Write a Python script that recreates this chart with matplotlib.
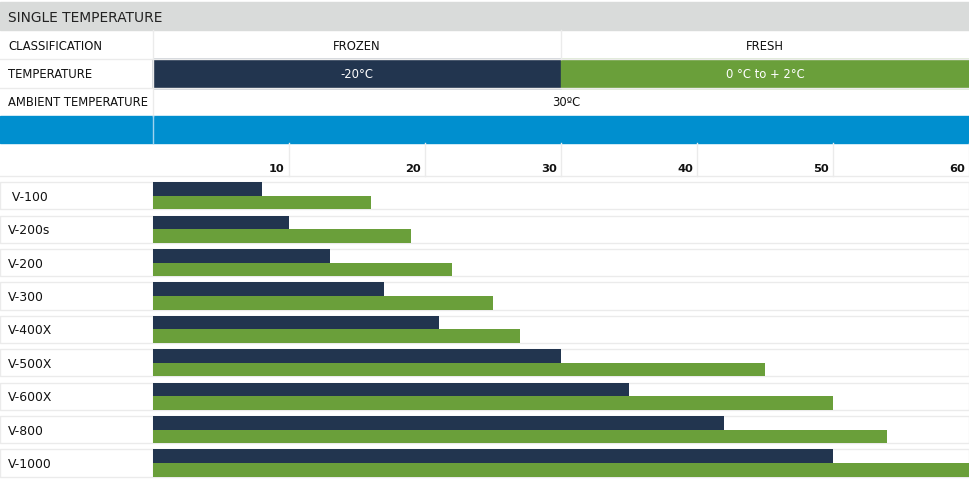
import matplotlib
matplotlib.use("Agg")
import matplotlib.pyplot as plt
from matplotlib.patches import Rectangle
from matplotlib.transforms import blended_transform_factory

# data
models = [" V-100", "V-200s", "V-200", "V-300", "V-400X", "V-500X", "V-600X", "V-800", "V-1000"]
frozen = [8, 10, 13, 17, 21, 30, 35, 42, 50]
fresh = [16, 19, 22, 25, 27, 45, 50, 54, 60]
ticks = [10, 20, 30, 40, 50, 60]

title = "SINGLE TEMPERATURE"
row_labels = ["CLASSIFICATION", "TEMPERATURE", "AMBIENT TEMPERATURE"]
classes = ["FROZEN", "FRESH"]
temps = ["-20°C", "0 °C to + 2°C"]
ambient = "30ºC"

navy = "#22354f"
green = "#6a9f3a"
blue = "#008fcf"
grey = "#d9dbda"
line = "#ebebeb"
narrow = dict(family="DejaVu Sans", fontstretch="condensed", fontsize=9.3)

W, H = 970, 482
fig = plt.figure(figsize=(W / 100, H / 100), dpi=100)

# header table, drawn in pixel coords
bg = fig.add_axes([0, 0, 1, 1])
bg.set_xlim(0, W)
bg.set_ylim(H, 0)
bg.axis("off")

x0, xm, x1 = 153, 561, 969
bg.add_patch(Rectangle((0, 2), W, 27.5, color=grey))
bg.text(8, 21.7, title, fontsize=9.9, color="#222222", family="DejaVu Sans")

for y in [58.5, 87.5]:
    bg.plot([0, W], [y, y], color=line, lw=1)
bg.plot([x0, x0], [29.5, 115.5], color=line, lw=1)
bg.plot([xm, xm], [29.5, 58.5], color=line, lw=1)
bg.add_patch(Rectangle((x0, 58.5), xm - x0, 29, color=navy))
bg.add_patch(Rectangle((xm, 58.5), x1 - xm, 29, color=green))
bg.add_patch(Rectangle((0, 115.5), W, 27, color=blue))
bg.plot([x0, x0], [115.5, 142.5], color="#9fd3ee", lw=1)

base = [50, 77.7, 106]
for lab, yb in zip(row_labels, base):
    bg.text(8, yb, lab, color="#111111", **narrow)
for i, (c, t) in enumerate(zip(classes, temps)):
    cx = (x0 + xm) / 2 if i == 0 else (xm + x1) / 2
    bg.text(cx, base[0], c, ha="center", color="#111111", **narrow)
    bg.text(cx, base[1], t, ha="center", color="white", **narrow)
bg.text(566, base[2], ambient, ha="center", color="#111111", **narrow)
bg.plot([0, W], [176, 176], color=line, lw=1)

# bar chart
top_px, bot_px = 179.1, 479.7
ax = fig.add_axes([x0 / W, (H - bot_px) / H, (x1 - x0) / W, (bot_px - top_px) / H])
ax.set_facecolor("none")
ax.set_xlim(0, 60)
ax.set_ylim(len(models) - 0.5, -0.5)
ax.axis("off")

trans = blended_transform_factory(ax.transAxes, ax.transData)
box = 0.81
lab_w = x0 / (x1 - x0)
for i, m in enumerate(models):
    ax.add_patch(Rectangle((0, i - box / 2), 1, box, transform=trans, facecolor="white",
                           edgecolor=line, lw=1, zorder=1, clip_on=False))
    ax.add_patch(Rectangle((-lab_w, i - box / 2), lab_w, box, transform=trans, facecolor="white",
                           edgecolor=line, lw=1, zorder=1, clip_on=False))
    ax.text(-lab_w + 8 / (x1 - x0), i + 0.15, m, transform=trans, fontsize=8.9,
            family="DejaVu Sans", color="#111111", zorder=3)

idx = list(range(len(models)))
ax.barh([i - box / 4 for i in idx], frozen, height=box / 2, color=navy, zorder=2)
ax.barh([i + box / 4 for i in idx], fresh, height=box / 2, color=green, zorder=2)

# ticks on top
tt = blended_transform_factory(ax.transData, ax.transAxes)
span = bot_px - top_px
for t in ticks:
    ax.plot([t, t], [1 + (top_px - 176) / span, 1 + (top_px - 143) / span], transform=tt,
            color=line, lw=1, clip_on=False)
    ax.annotate(str(t), xy=(t, 1), xycoords=tt, xytext=(-3, 5.3), textcoords="offset points",
                ha="right", va="baseline", fontsize=8.2, fontweight="bold", family="DejaVu Sans",
                color="#111111", annotation_clip=False)

plt.savefig("out.png", dpi=100)
